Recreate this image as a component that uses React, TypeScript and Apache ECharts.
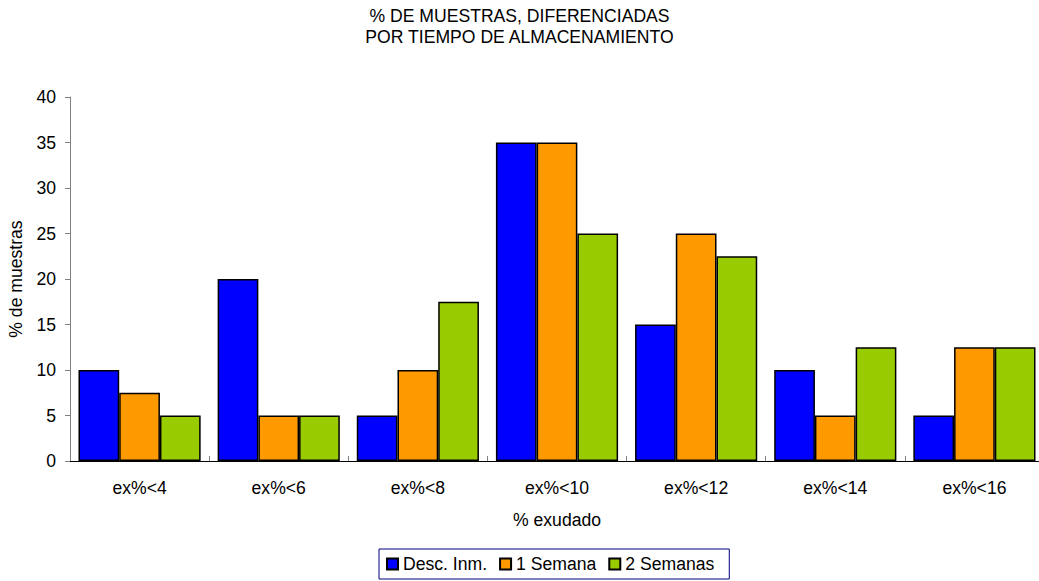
import React, { useEffect, useRef } from "react";
import * as echarts from "echarts";

const categories = ["ex%<4", "ex%<6", "ex%<8", "ex%<10", "ex%<12", "ex%<14", "ex%<16"];
const seriesNames = ["Desc. Inm.", "1 Semana", "2 Semanas"];
const descInm = [10, 20, 5, 35, 15, 10, 5];
const unaSemana = [7.5, 5, 10, 35, 25, 5, 12.5];
const dosSemanas = [5, 5, 17.5, 25, 22.5, 12.5, 12.5];
const colors = ["#0000FF", "#FF9900", "#99CC00"];
const titleText = "% DE MUESTRAS, DIFERENCIADAS\nPOR TIEMPO DE ALMACENAMIENTO";
const xName = "% exudado";
const yName = "% de muestras";

const FONT = "'Liberation Sans', Arial, sans-serif";
const FS = 17.6;

export default function App() {
  const ref = useRef<HTMLDivElement>(null);
  useEffect(() => {
    if (!ref.current) return;
    const chart = echarts.init(ref.current, undefined, { renderer: "svg" });
    const data = [descInm, unaSemana, dosSemanas];
    chart.setOption({
      animation: false,
      backgroundColor: "#ffffff",
      textStyle: { fontFamily: FONT },
      title: {
        text: titleText,
        left: "center",
        top: 5,
        padding: 0,
        textStyle: { fontFamily: FONT, fontSize: FS, fontWeight: "normal", color: "#000", lineHeight: 21.5 },
      },
      legend: {
        left: 379,
        top: 549,
        orient: "horizontal",
        padding: [6, 15, 6, 7],
        itemWidth: 11,
        itemHeight: 11,
        itemGap: 12,
        borderColor: "#000080",
        borderWidth: 1,
        icon: "rect",
        textStyle: { fontFamily: FONT, fontSize: FS, color: "#000" },
        data: seriesNames,
      },
      grid: { left: 70, width: 974, top: 97, bottom: 120, containLabel: false, outerBoundsMode: "none" },
      xAxis: {
        type: "category",
        data: categories,
        name: xName,
        nameLocation: "middle",
        nameGap: 50,
        nameTextStyle: { fontFamily: FONT, fontSize: FS, color: "#000" },
        axisLine: { lineStyle: { color: "#000", width: 1 } },
        axisTick: { show: true, inside: true, length: 5, alignWithLabel: false, lineStyle: { color: "#808080" } },
        axisLabel: { fontFamily: FONT, fontSize: FS, color: "#000", margin: 18 },
      },
      yAxis: {
        type: "value",
        min: 0,
        max: 40,
        interval: 5,
        name: yName,
        nameLocation: "middle",
        nameGap: 45,
        nameTextStyle: { fontFamily: FONT, fontSize: FS, color: "#000" },
        axisLine: { show: true, lineStyle: { color: "#808080", width: 1 } },
        axisTick: { show: true, inside: false, length: 5, lineStyle: { color: "#808080" } },
        axisLabel: { fontFamily: FONT, fontSize: FS, color: "#000", margin: 14 },
        splitLine: { show: false },
      },
      series: seriesNames.map((name, i) => ({
        name,
        type: "bar",
        data: data[i],
        barGap: "0%",
        barCategoryGap: "12.2%",
        itemStyle: { color: colors[i], borderColor: "#000", borderWidth: 1.5 },
        emphasis: { disabled: true },
      })),
    });
    return () => chart.dispose();
  }, []);
  return (
    <div
      ref={ref}
      style={{ position: "fixed", left: 0, top: 0, width: 1039, height: 581 }}
    />
  );
}
